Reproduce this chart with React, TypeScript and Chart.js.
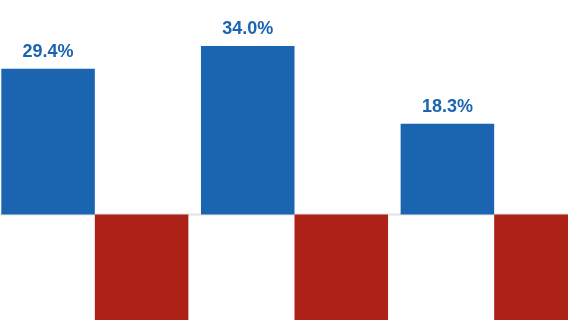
import React, { useEffect, useRef } from "react";
import { Chart, registerables } from "chart.js";

Chart.register(...registerables);

const categories = ["Group 1", "Group 2", "Group 3"];
const positiveValues = [29.4, 34.0, 18.3];
// Negative bars run past the bottom edge of the picture; their exact size is not visible.
const negativeValues = [-25.0, -25.0, -25.0];
const positiveLabels = ["29.4%", "34.0%", "18.3%"];

const BLUE = "rgb(27,101,176)";
const RED = "rgb(173,34,23)";

const overlayPlugin = {
  id: "overlay",
  beforeDatasetsDraw(chart: any) {
    const { ctx, chartArea, scales } = chart;
    const y0 = scales.y.getPixelForValue(0);
    ctx.save();
    ctx.strokeStyle = "#e4e4e4";
    ctx.lineWidth = 2;
    ctx.beginPath();
    ctx.moveTo(chartArea.left, y0);
    ctx.lineTo(chartArea.right, y0);
    ctx.stroke();
    ctx.restore();
  },
  afterDatasetsDraw(chart: any) {
    const { ctx } = chart;
    const meta = chart.getDatasetMeta(0);
    ctx.save();
    ctx.fillStyle = BLUE;
    ctx.font = "bold 18px 'Liberation Sans', Arial, sans-serif";
    ctx.textAlign = "center";
    ctx.textBaseline = "alphabetic";
    meta.data.forEach((bar: any, i: number) => {
      ctx.fillText(positiveLabels[i], bar.x, bar.y - 12);
    });
    ctx.restore();
  },
};

export default function App() {
  const canvasRef = useRef<HTMLCanvasElement | null>(null);

  useEffect(() => {
    document.body.style.margin = "0";
    const canvas = canvasRef.current;
    if (!canvas) return;
    const chart = new Chart(canvas, {
      type: "bar",
      data: {
        labels: categories,
        datasets: [
          {
            data: positiveValues,
            backgroundColor: BLUE,
            borderWidth: 0,
            categoryPercentage: 0.937,
            barPercentage: 1,
          },
          {
            data: negativeValues,
            backgroundColor: RED,
            borderWidth: 0,
            categoryPercentage: 0.937,
            barPercentage: 1,
          },
        ],
      },
      options: {
        animation: false,
        responsive: true,
        maintainAspectRatio: false,
        layout: { padding: 0 },
        plugins: {
          legend: { display: false },
          tooltip: { enabled: false },
        },
        scales: {
          x: { display: false },
          y: { display: false, min: -21.3, max: 43.3 },
        },
      },
      plugins: [overlayPlugin],
    });
    return () => chart.destroy();
  }, []);

  return (
    <div style={{ position: "relative", width: 568, height: 320, overflow: "hidden", background: "#fff" }}>
      <div style={{ position: "absolute", left: -5, top: 0, width: 599, height: 320 }}>
        <canvas ref={canvasRef} />
      </div>
    </div>
  );
}
